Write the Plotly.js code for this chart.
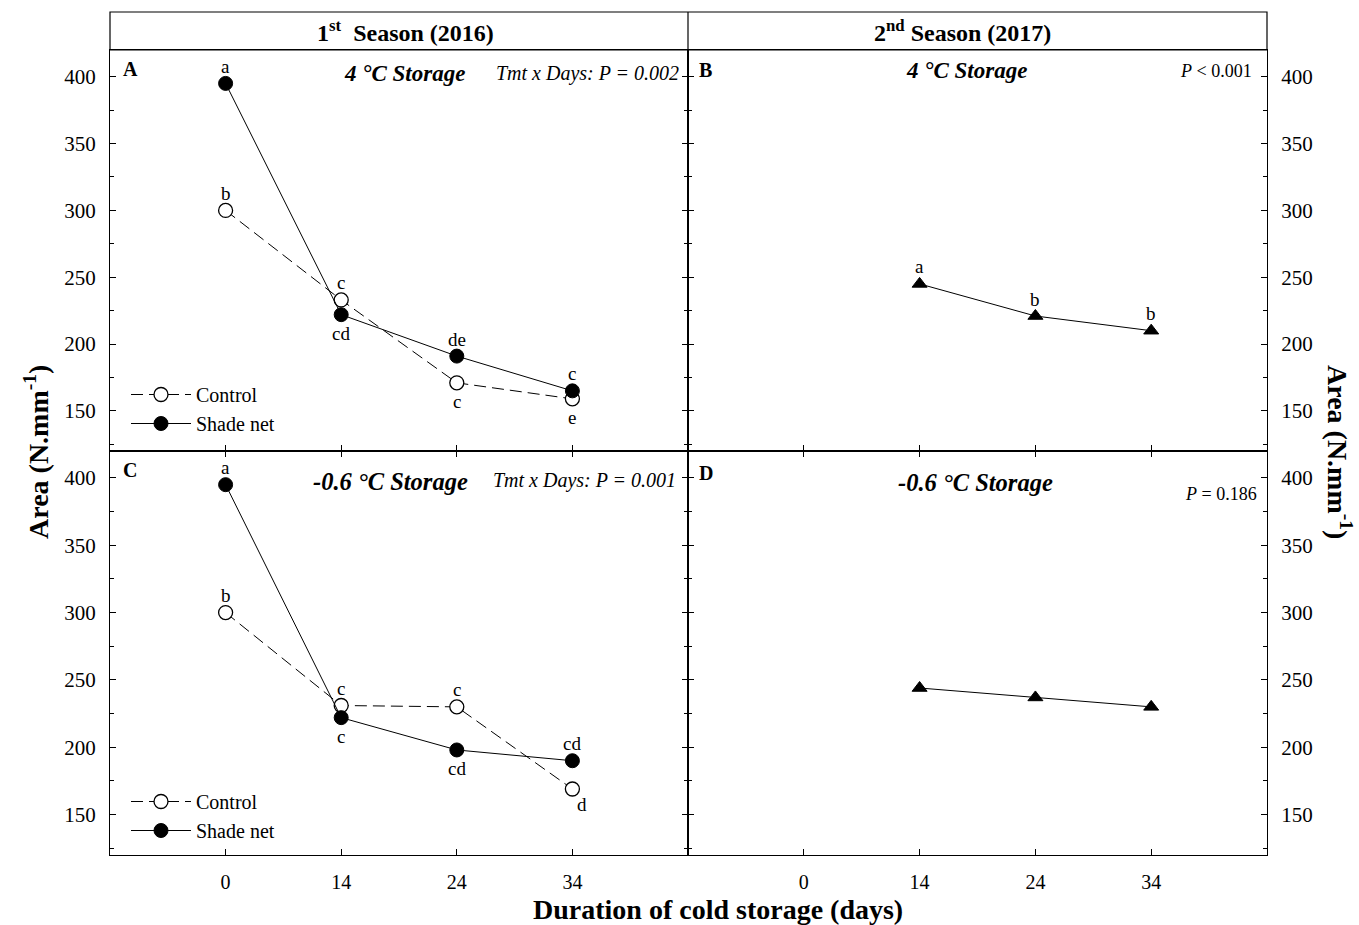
<!DOCTYPE html>
<html>
<head>
<meta charset="utf-8">
<script src="https://cdn.plot.ly/plotly-3.0.1.min.js"></script>
<style>
  html, body { margin: 0; padding: 0; background: #fff; }
  #chart { width: 1359px; height: 925px; }
</style>
</head>
<body>
<div id="chart"></div>
<script>
// Storage durations (days), drawn as evenly spaced categories
const days = ['0', '14', '24', '34'];
const dayIdx = [0, 1, 2, 3];
const dayIdx2017 = [1, 2, 3];

// 1st season (2016), 4 °C storage
const controlA = [300, 233, 171, 159];
const shadeA = [395, 222, 191, 165];
const controlA_letters = ['b', 'c', 'c', 'e'];
const shadeA_letters = ['a', 'cd', 'de', 'c'];

// 1st season (2016), -0.6 °C storage
const controlC = [300, 231, 230, 169];
const shadeC = [395, 222, 198, 190];
const controlC_letters = ['b', 'c', 'c', 'd'];
const shadeC_letters = ['a', 'c', 'cd', 'cd'];

// 2nd season (2017), pooled treatments
const season2B = [245, 221, 210];
const season2B_letters = ['a', 'b', 'b'];
const season2D = [244, 237, 230];

const SERIF = 'Liberation Serif, Times New Roman, serif';
const BLACK = '#000';

// Plot-area geometry in pixels
const W = 1359, H = 925;
const M = { l: 110, r: 92, t: 12, b: 70 };
const PW = W - M.l - M.r, PH = H - M.t - M.b;
const px2x = p => (p - M.l) / PW;
const py2y = p => (H - M.b - p) / PH;

const xSplit = px2x(688);
const headerBottom = py2y(50);
const ySplit = py2y(451);

const controlStyle = {
  mode: 'lines+markers',
  line: { color: BLACK, width: 1, dash: '12px,6px' },
  marker: { symbol: 'circle', size: 14, color: '#fff', line: { color: BLACK, width: 1.3 } }
};
const shadeStyle = {
  mode: 'lines+markers',
  line: { color: BLACK, width: 1 },
  marker: { symbol: 'circle', size: 14, color: BLACK, line: { color: BLACK, width: 1 } }
};
const triStyle = {
  mode: 'lines+markers',
  line: { color: BLACK, width: 1 },
  marker: { symbol: 'triangle-up', size: 13, color: BLACK, line: { color: BLACK, width: 1 } }
};

const traces = [
  Object.assign({ x: dayIdx, y: controlA, name: 'Control', xaxis: 'x', yaxis: 'y', legend: 'legend' }, controlStyle),
  Object.assign({ x: dayIdx, y: shadeA, name: 'Shade net', xaxis: 'x', yaxis: 'y', legend: 'legend' }, shadeStyle),
  Object.assign({ x: dayIdx2017, y: season2B, name: '2017', xaxis: 'x2', yaxis: 'y2', showlegend: false }, triStyle),
  Object.assign({ x: dayIdx, y: controlC, name: 'Control', xaxis: 'x3', yaxis: 'y3', legend: 'legend2' }, controlStyle),
  Object.assign({ x: dayIdx, y: shadeC, name: 'Shade net', xaxis: 'x3', yaxis: 'y3', legend: 'legend2' }, shadeStyle),
  Object.assign({ x: dayIdx2017, y: season2D, name: '2017', xaxis: 'x4', yaxis: 'y4', showlegend: false }, triStyle)
];

function xAxis(domain, anchor, showLabels, mirrorTicks) {
  return {
    domain: domain, anchor: anchor, range: [-1, 4],
    tickvals: dayIdx, ticktext: days, showticklabels: showLabels,
    ticks: 'inside', ticklen: 6, tickwidth: 1, tickcolor: BLACK,
    ticklabelstandoff: 9,
    showline: true, linecolor: BLACK, linewidth: 1, mirror: mirrorTicks ? 'ticks' : true,
    showgrid: false, zeroline: false,
    tickfont: { family: SERIF, size: 20, color: BLACK }
  };
}
function yAxis(domain, anchor, side, showLabels) {
  return {
    domain: domain, anchor: anchor, side: side, range: [120, 420],
    tick0: 0, dtick: 50, showticklabels: showLabels,
    ticks: 'inside', ticklen: 6, tickwidth: 1, tickcolor: BLACK,
    ticklabelstandoff: 9,
    minor: { dtick: 25, ticks: 'inside', ticklen: 4, tickcolor: BLACK, showgrid: false },
    showline: true, linecolor: BLACK, linewidth: 1, mirror: 'ticks',
    showgrid: false, zeroline: false,
    tickfont: { family: SERIF, size: 21, color: BLACK }
  };
}

const annotations = [];
function txt(xref, yref, x, y, text, opts) {
  annotations.push(Object.assign({
    xref: xref, yref: yref, x: x, y: y, text: text, showarrow: false,
    xanchor: 'center', yanchor: 'middle',
    font: { family: SERIF, size: 19, color: BLACK }
  }, opts || {}));
}

// Significance letters: above unless listed as below
function letters(xa, ya, xs, ys, labs, below, extra) {
  labs.forEach((l, i) => {
    const b = below.indexOf(i) >= 0;
    const o = { yshift: b ? -19 : 17 };
    if (extra && extra[i]) Object.assign(o, extra[i]);
    txt(xa, ya, xs[i], ys[i], l, o);
  });
}
letters('x', 'y', dayIdx, controlA, controlA_letters, [2, 3]);
letters('x', 'y', dayIdx, shadeA, shadeA_letters, [1]);
letters('x2', 'y2', dayIdx2017, season2B, season2B_letters, []);
letters('x3', 'y3', dayIdx, controlC, controlC_letters, [3], { 3: { xshift: 10, yshift: -15 } });
letters('x3', 'y3', dayIdx, shadeC, shadeC_letters, [1, 2]);

// Header band
const headFont = { family: SERIF, size: 24, color: BLACK, weight: 'bold' };
txt('paper', 'paper', px2x(405), py2y(31), '1<sup>st</sup>  Season (2016)', { font: headFont });
txt('paper', 'paper', px2x(962), py2y(31), '2<sup>nd</sup> Season (2017)', { font: headFont });

// Panel letters
const letterFont = { family: SERIF, size: 20, color: BLACK, weight: 'bold' };
txt('paper', 'paper', px2x(130), py2y(69), 'A', { font: letterFont });
txt('paper', 'paper', px2x(705), py2y(70), 'B', { font: letterFont });
txt('paper', 'paper', px2x(130), py2y(470), 'C', { font: letterFont });
txt('paper', 'paper', px2x(706), py2y(473), 'D', { font: letterFont });

// Storage temperature titles
const stFont = { family: SERIF, size: 23, color: BLACK, weight: 'bold', style: 'italic' };
const stFont2 = { family: SERIF, size: 24.5, color: BLACK, weight: 'bold', style: 'italic' };
txt('paper', 'paper', px2x(404), py2y(73), '4 °C Storage', { font: stFont });
txt('paper', 'paper', px2x(966), py2y(70), '4 °C Storage', { font: stFont });
txt('paper', 'paper', px2x(390), py2y(481), '-0.6 °C Storage', { font: stFont2 });
txt('paper', 'paper', px2x(975), py2y(482), '-0.6 °C Storage', { font: stFont2 });

// Statistics
const pItal = { family: SERIF, size: 20, color: BLACK, style: 'italic' };
const pNorm = { family: SERIF, size: 18, color: BLACK };
txt('paper', 'paper', px2x(681), py2y(74), 'Tmt x Days: P = 0.002', { font: pItal, xanchor: 'right' });
txt('paper', 'paper', px2x(678), py2y(480), 'Tmt x Days: P = 0.001', { font: pItal, xanchor: 'right' });
txt('paper', 'paper', px2x(1254), py2y(71), '<i>P</i> &lt; 0.001', { font: pNorm, xanchor: 'right' });
txt('paper', 'paper', px2x(1259), py2y(494), '<i>P</i> = 0.186', { font: pNorm, xanchor: 'right' });

// Axis titles
const axTitleFont = { family: SERIF, size: 28, color: BLACK, weight: 'bold' };
txt('paper', 'paper', px2x(36), py2y(452), 'Area (N.mm<sup>-1</sup>)', { font: axTitleFont, textangle: -90 });
txt('paper', 'paper', px2x(1340), py2y(452), 'Area (N.mm<sup>-1</sup>)', { font: axTitleFont, textangle: 90 });
txt('paper', 'paper', px2x(718), py2y(909), 'Duration of cold storage (days)', { font: axTitleFont });

const legendBase = {
  xref: 'paper', yref: 'paper', xanchor: 'left', yanchor: 'top',
  bgcolor: 'rgba(0,0,0,0)', borderwidth: 0, tracegroupgap: 0, itemwidth: 60,
  font: { family: SERIF, size: 20, color: BLACK }
};

const layout = {
  width: W, height: H,
  margin: M,
  paper_bgcolor: '#fff', plot_bgcolor: '#fff',
  showlegend: true,
  legend: Object.assign({}, legendBase, { x: px2x(126), y: py2y(375) }),
  legend2: Object.assign({}, legendBase, { x: px2x(126), y: py2y(782) }),
  xaxis: xAxis([0, xSplit], 'y', false, false),
  yaxis: yAxis([ySplit, headerBottom], 'x', 'left', true),
  xaxis2: xAxis([xSplit, 1], 'y2', false, false),
  yaxis2: yAxis([ySplit, headerBottom], 'x2', 'right', true),
  xaxis3: xAxis([0, xSplit], 'y3', true, true),
  yaxis3: yAxis([0, ySplit], 'x3', 'left', true),
  xaxis4: xAxis([xSplit, 1], 'y4', true, true),
  yaxis4: yAxis([0, ySplit], 'x4', 'right', true),
  shapes: [
    { type: 'rect', xref: 'paper', yref: 'paper', x0: 0, x1: 1, y0: headerBottom, y1: 1,
      line: { color: BLACK, width: 1.2 } },
    { type: 'line', xref: 'paper', yref: 'paper', x0: xSplit, x1: xSplit, y0: headerBottom, y1: 1,
      line: { color: BLACK, width: 1.2 } }
  ],
  annotations: annotations
};

Plotly.newPlot('chart', traces, layout, { displayModeBar: false, staticPlot: true });
</script>
</body>
</html>
